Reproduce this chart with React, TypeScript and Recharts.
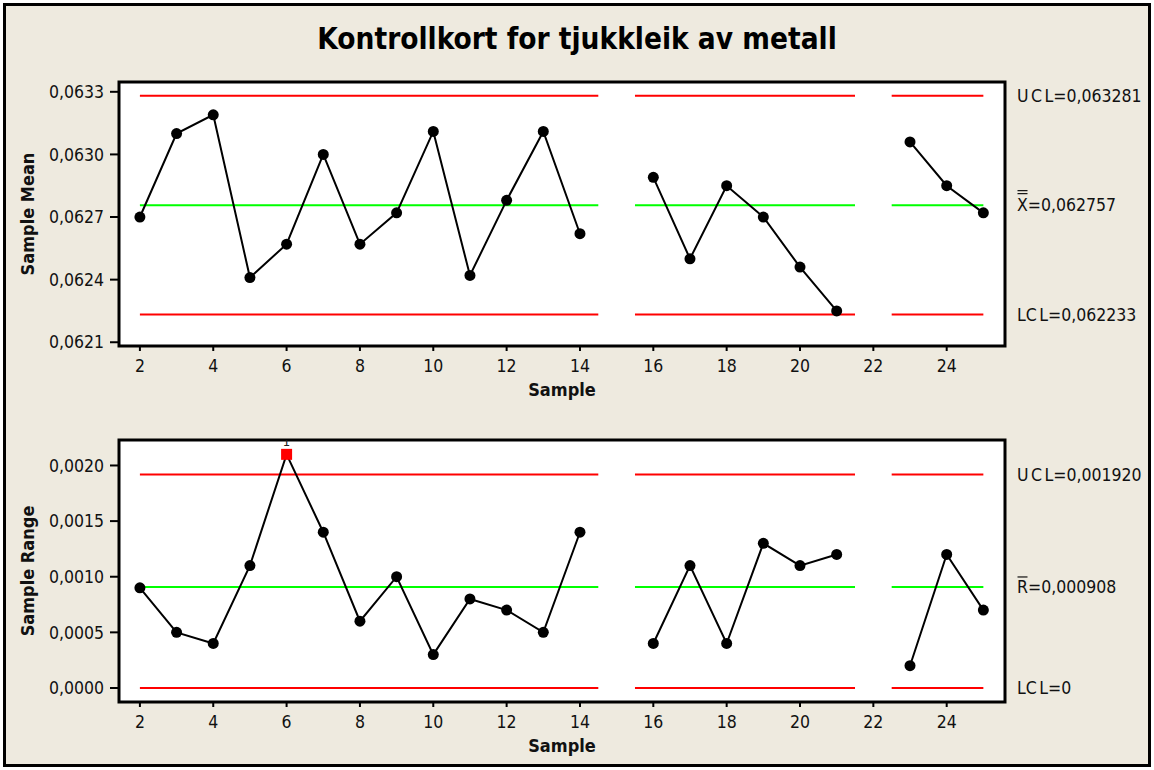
import React from 'react';
import { LineChart, Line, XAxis, YAxis, CartesianGrid, ReferenceLine, ReferenceArea } from 'recharts';

const FONT = "'DejaVu Sans Condensed', 'DejaVu Sans', sans-serif";

const title = 'Kontrollkort for tjukkleik av metall';
const samples = [2, 3, 4, 5, 6, 7, 8, 9, 10, 11, 12, 13, 14, 15, 16, 17, 18, 19, 20, 21, 22, 23, 24, 25];
const meanValues = [
  0.06270, 0.06310, 0.06319, 0.06241, 0.06257, 0.06300, 0.06257, 0.06272, 0.06311, 0.06242,
  0.06278, 0.06311, 0.06262, null, 0.06289, 0.06250, 0.06285, 0.06270, 0.06246, 0.06225,
  null, 0.06306, 0.06285, 0.06272,
];
const rangeValues = [
  0.0009, 0.0005, 0.0004, 0.0011, 0.0021, 0.0014, 0.0006, 0.0010, 0.0003, 0.0008,
  0.0007, 0.0005, 0.0014, null, 0.0004, 0.0011, 0.0004, 0.0013, 0.0011, 0.0012,
  null, 0.0002, 0.0012, 0.0007,
];
const xTicks = [2, 4, 6, 8, 10, 12, 14, 16, 18, 20, 22, 24];
const meanTicks = [0.0621, 0.0624, 0.0627, 0.063, 0.0633];
const rangeTicks = [0, 0.0005, 0.001, 0.0015, 0.002];
const limitSegments = [[2, 14.5], [15.5, 21.5], [22.5, 25]];
const meanUCL = 0.063281;
const meanCL = 0.062757;
const meanLCL = 0.062233;
const rangeUCL = 0.00192;
const rangeCL = 0.000908;
const rangeLCL = 0;

const xDomain = [1.43, 25.59];
const meanDomain = [0.062082, 0.063347];
const rangeDomain = [-0.000126, 0.002229];

const fmtTick = (v: number) => v.toFixed(4).replace('.', ',');
const fmtLimit = (v: number) => (v === 0 ? '0' : v.toFixed(6).replace('.', ','));

const limitData = (value: number) =>
  limitSegments.flatMap(([a, b]) => [
    { sample: a, v: value },
    { sample: b, v: value },
    { sample: b + 0.5, v: null },
  ]);

const makeDot = (ucl: number) => (props: any) => {
  const { cx, cy, index, value } = props;
  const key = `dot-${index}`;
  if (cx == null || cy == null || value == null || Number.isNaN(cy)) return <g key={key} />;
  const v = Array.isArray(value) ? value[1] : value;
  if (v > ucl) {
    return (
      <g key={key}>
        <rect x={cx - 5.5} y={cy - 5.5} width={11} height={11} fill="#ff0000" />
        <text x={cx} y={cy - 8} textAnchor="middle" fontSize={13} fontFamily={FONT} fill="#222">
          1
        </text>
      </g>
    );
  }
  return <circle key={key} cx={cx} cy={cy} r={5.5} fill="#000" />;
};

type LabelKind = 'UCL' | 'LCL' | 'XBAR' | 'RBAR';

const makeRightLabel = (kind: LabelKind, value: number) => (props: any) => {
  const vb = props.viewBox || {};
  const tx = (vb.x || 0) + (vb.width || 0) + 12;
  const ty = vb.y || 0;
  const common = { fontSize: 17.5, fontFamily: FONT, fill: '#111' };
  const valueText = '=' + fmtLimit(value);
  if (kind === 'UCL') {
    return (
      <text x={tx} y={ty} dy="0.36em" {...common}>
        <tspan letterSpacing="2.5">UC</tspan>
        <tspan>{'L' + valueText}</tspan>
      </text>
    );
  }
  if (kind === 'LCL') {
    return (
      <text x={tx} y={ty} dy="0.36em" {...common}>
        <tspan>L</tspan>
        <tspan letterSpacing="2.5">C</tspan>
        <tspan>{'L' + valueText}</tspan>
      </text>
    );
  }
  if (kind === 'XBAR') {
    return (
      <g>
        <text x={tx} y={ty} dy="0.36em" {...common}>
          {'X' + valueText}
        </text>
        <line x1={tx + 0.5} x2={tx + 10.5} y1={ty - 14.5} y2={ty - 14.5} stroke="#111" strokeWidth={1.2} />
        <line x1={tx + 0.5} x2={tx + 10.5} y1={ty - 11.5} y2={ty - 11.5} stroke="#111" strokeWidth={1.2} />
      </g>
    );
  }
  return (
    <g>
      <text x={tx} y={ty} dy="0.36em" {...common}>
        {'R' + valueText}
      </text>
      <line x1={tx + 0.5} x2={tx + 10.5} y1={ty - 10} y2={ty - 10} stroke="#111" strokeWidth={1.2} />
    </g>
  );
};

type PanelProps = {
  top: number;
  height: number;
  marginTop: number;
  marginBottom: number;
  values: (number | null)[];
  yDomain: number[];
  yTicks: number[];
  ucl: number;
  cl: number;
  lcl: number;
  yLabel: string;
  clKind: LabelKind;
};

const Panel = (p: PanelProps) => {
  const data = samples.map((s, i) => ({ sample: s, value: p.values[i] }));
  const tickStyle = { fontSize: 17.5, fill: '#111', fontFamily: FONT };
  return (
    <div style={{ position: 'absolute', left: 0, top: p.top }}>
      <LineChart
        width={1154}
        height={p.height}
        data={data}
        margin={{ top: p.marginTop, right: 149, bottom: p.marginBottom, left: 0 }}
      >
        <CartesianGrid horizontal={false} vertical={false} fill="#ffffff" />
        <XAxis
          type="number"
          dataKey="sample"
          domain={xDomain}
          ticks={xTicks}
          allowDataOverflow
          height={60}
          axisLine={false}
          tickLine={{ stroke: '#000', strokeWidth: 2 }}
          tickSize={5}
          tickMargin={9}
          tick={tickStyle}
          label={{
            value: 'Sample',
            position: 'insideBottom',
            offset: 10,
            fontSize: 18,
            fontWeight: 'bold',
            fontFamily: FONT,
            fill: '#111',
          }}
        />
        <YAxis
          type="number"
          domain={p.yDomain}
          ticks={p.yTicks}
          allowDataOverflow
          width={119}
          axisLine={false}
          tickLine={{ stroke: '#000', strokeWidth: 2 }}
          tickSize={9}
          tickMargin={6}
          tick={tickStyle}
          tickFormatter={fmtTick}
          label={{
            value: p.yLabel,
            angle: -90,
            position: 'insideLeft',
            offset: 28,
            style: { textAnchor: 'middle' },
            fontSize: 18,
            fontWeight: 'bold',
            fontFamily: FONT,
            fill: '#111',
          }}
        />
        <ReferenceArea
          x1={xDomain[0]}
          x2={xDomain[1]}
          y1={p.yDomain[0]}
          y2={p.yDomain[1]}
          fill="none"
          fillOpacity={0}
          stroke="#000"
          strokeWidth={3}
          strokeOpacity={1}
          ifOverflow="visible"
        />
        <Line data={limitData(p.ucl)} dataKey="v" stroke="#ff0000" strokeWidth={2} dot={false} activeDot={false} isAnimationActive={false} connectNulls={false} />
        <Line data={limitData(p.lcl)} dataKey="v" stroke="#ff0000" strokeWidth={2} dot={false} activeDot={false} isAnimationActive={false} connectNulls={false} />
        <Line data={limitData(p.cl)} dataKey="v" stroke="#00ff00" strokeWidth={2} dot={false} activeDot={false} isAnimationActive={false} connectNulls={false} />
        <Line
          dataKey="value"
          stroke="#000"
          strokeWidth={2}
          dot={makeDot(p.ucl)}
          activeDot={false}
          isAnimationActive={false}
          connectNulls={false}
        />
        <ReferenceLine y={p.ucl} stroke="none" strokeOpacity={0} ifOverflow="visible" label={makeRightLabel('UCL', p.ucl)} />
        <ReferenceLine y={p.cl} stroke="none" strokeOpacity={0} ifOverflow="visible" label={makeRightLabel(p.clKind, p.cl)} />
        <ReferenceLine y={p.lcl} stroke="none" strokeOpacity={0} ifOverflow="visible" label={makeRightLabel('LCL', p.lcl)} />
      </LineChart>
    </div>
  );
};

export default function App() {
  return (
    <div style={{ position: 'absolute', left: 0, top: 0, width: 1154, height: 770, background: '#ffffff', overflow: 'hidden' }}>
      <div
        style={{
          position: 'absolute',
          left: 3,
          top: 3,
          width: 1148,
          height: 764,
          boxSizing: 'border-box',
          border: '3px solid #000',
          background: '#eeeadf',
        }}
      />
      <div
        style={{
          position: 'absolute',
          left: 0,
          top: 25,
          width: 1154,
          textAlign: 'center',
          fontFamily: FONT,
          fontWeight: 'bold',
          fontSize: 29.5,
          lineHeight: '29px',
          color: '#000',
        }}
      >
        {title}
      </div>
      <Panel
        top={0}
        height={420}
        marginTop={82}
        marginBottom={14}
        values={meanValues}
        yDomain={meanDomain}
        yTicks={meanTicks}
        ucl={meanUCL}
        cl={meanCL}
        lcl={meanLCL}
        yLabel="Sample Mean"
        clKind="XBAR"
      />
      <Panel
        top={420}
        height={350}
        marginTop={20}
        marginBottom={8}
        values={rangeValues}
        yDomain={rangeDomain}
        yTicks={rangeTicks}
        ucl={rangeUCL}
        cl={rangeCL}
        lcl={rangeLCL}
        yLabel="Sample Range"
        clKind="RBAR"
      />
    </div>
  );
}
